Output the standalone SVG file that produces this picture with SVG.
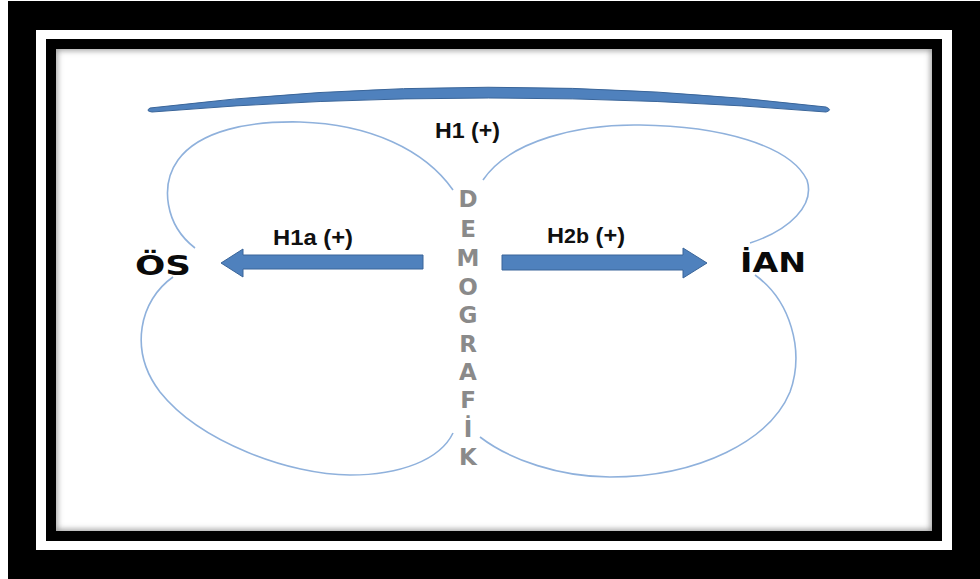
<svg xmlns="http://www.w3.org/2000/svg" width="980" height="579" viewBox="0 0 980 579">
  <style>
    .lobe { fill: none; stroke: #8fb1dc; stroke-width: 1.6; }
    .arrow { fill: #4f81bd; stroke: #3a6599; stroke-width: 1; }
    .hyp { font-family: "Liberation Sans", Arial, sans-serif; font-weight: bold; font-size: 22px; fill: #101010; }
    .node { font-family: "DejaVu Sans", Verdana, sans-serif; font-weight: bold; font-size: 26px; fill: #0a0a0a; }
    .demo { font-family: "DejaVu Sans", Verdana, sans-serif; font-weight: bold; font-size: 23px; fill: #8a8a8a; text-anchor: middle; }
  </style>
  <defs>
    <clipPath id="inner-clip">
      <rect x="56" y="49" width="876" height="482"/>
    </clipPath>
    <filter id="soft" x="-5%" y="-5%" width="110%" height="110%">
      <feGaussianBlur stdDeviation="3"/>
    </filter>
  </defs>

  <!-- picture frame: black mat, white band, black border, white panel with inner shade -->
  <g id="frame">
    <rect x="0" y="0" width="980" height="579" fill="#ffffff"/>
    <rect x="8" y="1" width="972" height="578" fill="#000000"/>
    <rect x="36" y="30" width="916" height="520" fill="#ffffff"/>
    <rect x="46" y="39" width="896" height="502" fill="#000000"/>
    <rect x="56" y="49" width="876" height="482" fill="#ffffff"/>
    <g clip-path="url(#inner-clip)">
      <rect x="54" y="47" width="880" height="486" fill="none" stroke="#8a8a8a" stroke-width="6" filter="url(#soft)"/>
    </g>
  </g>

  <!-- H1 overarching bracket -->
  <g id="h1-bracket">
    <path class="arrow" d="M150,108 Q488,67 826,107 Q833,110 826,112 Q488,84 152,112 Q145,111 150,108 Z"/>
  </g>

  <!-- connectors: the four lobes and the two block arrows -->
  <g id="connectors">
    <path class="lobe" d="M195,248 C165,225 160,185 178,160 C200,130 250,121 300,122 C370,124 425,150 453,190"/>
    <path class="lobe" d="M483,180 C510,140 580,124 640,125 C720,126 790,145 807,180 C815,205 790,230 750,243"/>
    <path class="lobe" d="M173,277 C140,300 128,350 160,392 C200,442 290,475 350,475 C400,475 440,460 453,433"/>
    <path class="lobe" d="M480,437 C510,460 560,477 610,477 C700,477 770,440 790,392 C805,350 790,300 755,275"/>
    <path class="arrow" d="M423,255 L243,255 L243,249 L221,263 L243,277 L243,269 L423,269 Z"/>
    <path class="arrow" d="M502,255 L683,255 L683,248 L707,263 L683,278 L683,270 L502,270 Z"/>
  </g>

  <g id="node-os">
    <text class="node" x="135" y="275" textLength="56" lengthAdjust="spacingAndGlyphs">ÖS</text>
  </g>
  <g id="node-ian">
    <text class="node" x="740" y="272" textLength="66" lengthAdjust="spacingAndGlyphs">İAN</text>
  </g>
  <g id="node-demografik">
    <text class="demo" x="468" y="207">D</text>
    <text class="demo" x="468" y="237">E</text>
    <text class="demo" x="468" y="266">M</text>
    <text class="demo" x="468" y="295">O</text>
    <text class="demo" x="468" y="323">G</text>
    <text class="demo" x="468" y="352">R</text>
    <text class="demo" x="468" y="380">A</text>
    <text class="demo" x="468" y="408">F</text>
    <text class="demo" x="468" y="437">İ</text>
    <text class="demo" x="468" y="465">K</text>
  </g>

  <g id="labels">
    <text class="hyp" x="435" y="138" textLength="65" lengthAdjust="spacingAndGlyphs">H1 (+)</text>
    <text class="hyp" x="273" y="245" textLength="80" lengthAdjust="spacingAndGlyphs">H1a (+)</text>
    <text class="hyp" x="547" y="243" textLength="78" lengthAdjust="spacingAndGlyphs">H<tspan font-size="20">2b</tspan> (+)</text>
  </g>
</svg>
